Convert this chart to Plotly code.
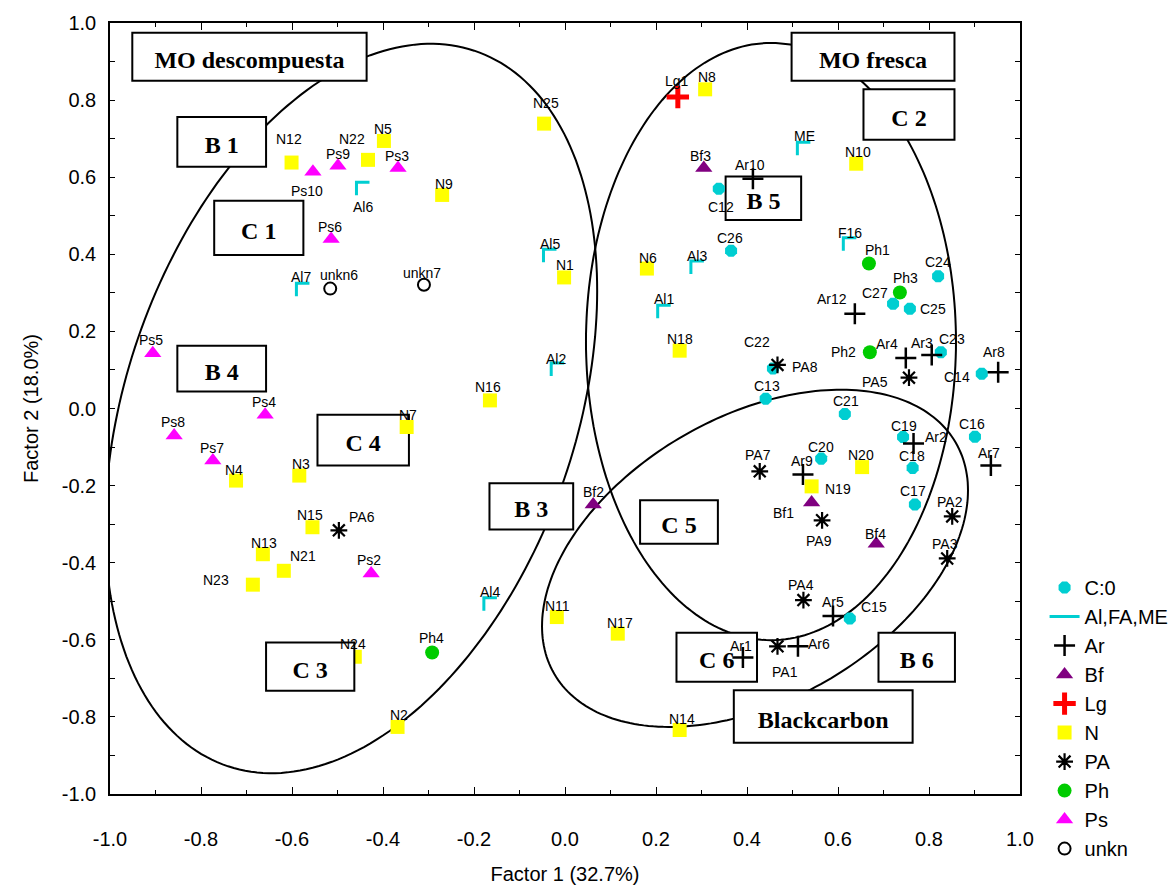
import numpy as np
import plotly.graph_objects as go

# ---------------- data (Factor 1, Factor 2 loadings) ----------------
c0_names = ["C12", "C26", "C24", "C27", "C25", "C22", "C13", "C23", "C14", "C21",
            "C19", "C16", "C20", "C18", "C17", "C15"]
c0_x = [0.338, 0.365, 0.820, 0.721, 0.758, 0.457, 0.441, 0.826, 0.916, 0.615,
        0.743, 0.901, 0.563, 0.764, 0.769, 0.626]
c0_y = [0.570, 0.409, 0.343, 0.272, 0.259, 0.104, 0.025, 0.146, 0.090, -0.014,
        -0.074, -0.073, -0.130, -0.154, -0.249, -0.545]

al_names = ["Al6", "Al7", "Al5", "Al3", "Al1", "ME", "F16", "Al2", "Al4"]
al_x = [-0.444, -0.576, -0.033, 0.291, 0.218, 0.525, 0.626, -0.016, -0.164]
al_y = [0.570, 0.308, 0.396, 0.366, 0.251, 0.674, 0.426, 0.101, -0.508]

ar_names = ["Ar10", "Ar12", "Ar4", "Ar3", "Ar8", "Ar2", "Ar7", "Ar9", "Ar5", "Ar1", "Ar6"]
ar_x = [0.413, 0.637, 0.749, 0.806, 0.952, 0.766, 0.936, 0.523, 0.589, 0.391, 0.512]
ar_y = [0.596, 0.246, 0.131, 0.139, 0.094, -0.091, -0.148, -0.171, -0.538, -0.646, -0.617]

bf_names = ["Bf3", "Bf2", "Bf1", "Bf4"]
bf_x = [0.305, 0.062, 0.542, 0.684]
bf_y = [0.624, -0.249, -0.244, -0.351]

lg_names = ["Lg1"]
lg_x = [0.248]
lg_y = [0.808]

n_names = ["N12", "N22", "N5", "N9", "N25", "N8", "N10", "N1", "N6", "N18", "N16", "N7",
           "N4", "N3", "N15", "N13", "N21", "N23", "N24", "N2", "N11", "N17", "N14",
           "N20", "N19"]
n_x = [-0.601, -0.433, -0.398, -0.270, -0.046, 0.308, 0.640, -0.002, 0.180, 0.252,
       -0.165, -0.348, -0.723, -0.584, -0.555, -0.664, -0.618, -0.686, -0.462, -0.368,
       -0.018, 0.116, 0.252, 0.653, 0.542]
n_y = [0.638, 0.645, 0.694, 0.554, 0.739, 0.828, 0.635, 0.340, 0.363, 0.150,
       0.021, -0.048, -0.187, -0.174, -0.308, -0.378, -0.421, -0.457, -0.644, -0.826,
       -0.541, -0.584, -0.834, -0.152, -0.202]

pa_names = ["PA8", "PA5", "PA7", "PA9", "PA2", "PA3", "PA4", "PA1", "PA6"]
pa_x = [0.467, 0.756, 0.428, 0.565, 0.851, 0.840, 0.524, 0.467, -0.497]
pa_y = [0.113, 0.080, -0.163, -0.290, -0.280, -0.389, -0.497, -0.617, -0.316]

ph_names = ["Ph1", "Ph3", "Ph2", "Ph4"]
ph_x = [0.668, 0.736, 0.670, -0.292]
ph_y = [0.376, 0.301, 0.146, -0.633]

ps_names = ["Ps10", "Ps9", "Ps3", "Ps6", "Ps5", "Ps4", "Ps8", "Ps7", "Ps2"]
ps_x = [-0.554, -0.499, -0.367, -0.514, -0.906, -0.659, -0.859, -0.774, -0.426]
ps_y = [0.614, 0.630, 0.624, 0.440, 0.143, -0.016, -0.070, -0.135, -0.428]

unkn_names = ["unkn6", "unkn7"]
unkn_x = [-0.516, -0.310]
unkn_y = [0.311, 0.321]

tick_vals = [-1.0, -0.8, -0.6, -0.4, -0.2, 0.0, 0.2, 0.4, 0.6, 0.8, 1.0]
tick_text = ["-1.0", "-0.8", "-0.6", "-0.4", "-0.2", "0.0", "0.2", "0.4", "0.6", "0.8", "1.0"]

# ---------------- label offsets from each point (pixels: right, down) ----------------
c0_lbl = [(2, 18), (-1, -13), (0, -14), (-18, -11), (23, 0), (-16, -26), (1, -13), (11, -13),
          (-25, 3), (1, -13), (1, -11), (-3, -13), (0, -12), (-1, -12), (-2, -13), (24, -12)]
al_lbl = [(0, 18), (-2, -13), (0, -12), (0, -11), (0, -13), (1, -13), (0, -11), (-2, -11), (0, -12)]
ar_lbl = [(-3, -14), (-23, -15), (-19, -14), (-10, -12), (-4, -20), (22, -7), (-2, -13),
          (-1, -13), (0, -14), (-2, -12), (21, -2)]
bf_lbl = [(-3, -12), (0, -12), (-28, 10), (-1, -10)]
lg_lbl = [(-1, -16)]
n_lbl = [(-3, -24), (-16, -21), (-1, -12), (2, -11), (2, -21), (2, -12), (2, -12), (1, -12),
         (1, -11), (0, -12), (-2, -13), (1, -12), (-2, -11), (2, -12), (-2, -12), (1, -11),
         (19, -15), (-37, -5), (-2, -13), (1, -12), (1, -11), (2, -11), (2, -11), (-1, -12),
         (26, 3)]
pa_lbl = [(28, 2), (-34, 4), (-2, -16), (-3, 21), (-2, -14), (-2, -14), (-2, -15), (8, 26), (23, -13)]
ph_lbl = [(9, -14), (6, -14), (-26, 0), (-1, -15)]
ps_lbl = [(-6, 19), (0, -12), (-1, -12), (-1, -12), (-2, -13), (-1, -13), (-1, -13), (-1, -13), (-2, -13)]
unkn_lbl = [(9, -14), (-2, -12)]

FONT = "Liberation Sans, Arial, sans-serif"
SERIF = "Liberation Serif, Times New Roman, serif"
CYAN = "#00CED1"

fig = go.Figure()

def marker_trace(name, xs, ys, symbol, color, size, lw=0, lcolor=None):
    m = dict(symbol=symbol, size=size, color=color)
    m["line"] = dict(width=lw, color=lcolor or color) if lw else dict(width=0)
    fig.add_trace(go.Scatter(x=xs, y=ys, mode="markers", name=name, marker=m,
                             hoverinfo="skip"))

# C:0
marker_trace("C:0", c0_x, c0_y, "octagon", CYAN, 13)
# Al,FA,ME : corner brackets drawn as short line pieces around each point
hw, hh = 0.0143, 0.0168
cx, cy = [], []
for xv, yv in zip(al_x, al_y):
    cx += [xv - hw, xv - hw, xv + hw, None]
    cy += [yv - hh, yv + hh, yv + hh, None]
fig.add_trace(go.Scatter(x=cx, y=cy, mode="lines", name="Al,FA,ME",
                         line=dict(color=CYAN, width=3), hoverinfo="skip"))
marker_trace("Ar", ar_x, ar_y, "cross-thin-open", "black", 15, 2.5, "black")
marker_trace("Bf", bf_x, bf_y, "triangle-up", "#800080", 15)
marker_trace("Lg", lg_x, lg_y, "cross-thin-open", "#FF0000", 16, 5, "#FF0000")
marker_trace("N", n_x, n_y, "square", "#FFFF00", 14)
marker_trace("PA", pa_x, pa_y, "asterisk-open", "black", 14, 2.2, "black")
marker_trace("Ph", ph_x, ph_y, "circle", "#00CC00", 14)
marker_trace("Ps", ps_x, ps_y, "triangle-up", "#FF00FF", 15)
marker_trace("unkn", unkn_x, unkn_y, "circle-open", "black", 12, 2, "black")

# point labels
annotations = []
for names, xs, ys, offs in [(c0_names, c0_x, c0_y, c0_lbl), (al_names, al_x, al_y, al_lbl),
                            (ar_names, ar_x, ar_y, ar_lbl), (bf_names, bf_x, bf_y, bf_lbl),
                            (lg_names, lg_x, lg_y, lg_lbl), (n_names, n_x, n_y, n_lbl),
                            (pa_names, pa_x, pa_y, pa_lbl), (ph_names, ph_x, ph_y, ph_lbl),
                            (ps_names, ps_x, ps_y, ps_lbl), (unkn_names, unkn_x, unkn_y, unkn_lbl)]:
    for nm, xv, yv, (dx, dy) in zip(names, xs, ys, offs):
        annotations.append(dict(x=xv, y=yv, xref="x", yref="y", text=nm, showarrow=False,
                                xshift=dx, yshift=-dy, xanchor="center", yanchor="middle",
                                font=dict(family=FONT, size=14, color="black")))

# ---------------- ellipses (conjugate semi-diameter form, data units) ----------------
ellipses = [
    (-0.470, 0.000, 0.5407, 0.3057, 0.0, 0.8953),   # MO descompuesta
    (0.4527, 0.1736, 0.4066, 0.0, 0.0, 0.7746),     # MO fresca
    (0.4176, -0.3886, 0.4681, 0.1762, 0.0, 0.4003), # Blackcarbon
]
shapes = []
t = np.linspace(0, 2 * np.pi, 241)
for (ecx, ecy, ux, uy, vx, vy) in ellipses:
    ex = ecx + ux * np.cos(t) + vx * np.sin(t)
    ey = ecy + uy * np.cos(t) + vy * np.sin(t)
    path = "M " + " L ".join(f"{a:.4f},{b:.4f}" for a, b in zip(ex, ey)) + " Z"
    shapes.append(dict(type="path", path=path, xref="x", yref="y", layer="below",
                       line=dict(color="black", width=2), fillcolor="rgba(0,0,0,0)"))

# ---------------- label boxes ----------------
boxes = [
    ("MO descompuesta", -0.951, -0.436, 0.850, 0.975, "below"),
    ("B 1", -0.852, -0.657, 0.627, 0.756, "below"),
    ("C 1", -0.771, -0.575, 0.398, 0.539, "below"),
    ("B 4", -0.852, -0.657, 0.044, 0.163, "below"),
    ("C 4", -0.544, -0.343, -0.148, -0.016, "below"),
    ("C 3", -0.657, -0.463, -0.732, -0.607, "above"),
    ("B 3", -0.166, 0.018, -0.314, -0.194, "below"),
    ("C 5", 0.165, 0.336, -0.351, -0.238, "below"),
    ("C 6", 0.245, 0.422, -0.709, -0.582, "below"),
    ("B 6", 0.689, 0.857, -0.709, -0.582, "below"),
    ("Blackcarbon", 0.371, 0.764, -0.867, -0.731, "below"),
    ("MO fresca", 0.498, 0.856, 0.850, 0.975, "below"),
    ("C 2", 0.656, 0.856, 0.697, 0.828, "below"),
    ("B 5", 0.353, 0.519, 0.489, 0.602, "below"),
]
for (txt, x0, x1, y0, y1, layer) in boxes:
    shapes.append(dict(type="rect", xref="x", yref="y", x0=x0, x1=x1, y0=y0, y1=y1,
                       layer=layer, fillcolor="white", line=dict(color="black", width=2),
                       label=dict(text=txt, textposition="middle center",
                                  font=dict(family=SERIF, size=24, color="black",
                                            weight="bold"))))

axis_common = dict(showgrid=False, zeroline=False, showline=True, linecolor="black",
                   linewidth=1.5, mirror="ticks", ticks="inside", tickcolor="black",
                   tickwidth=1.2, tickvals=tick_vals, ticktext=tick_text, range=[-1, 1],
                   automargin=False)

fig.update_layout(
    width=1174, height=885,
    margin=dict(l=110, r=154, t=23, b=91, autoexpand=False),
    paper_bgcolor="white", plot_bgcolor="white",
    shapes=shapes,
    annotations=annotations,
    showlegend=True,
    legend=dict(x=1.027, y=0.293, xanchor="left", yanchor="top",
                font=dict(family=FONT, size=20, color="black"),
                bgcolor="rgba(0,0,0,0)", tracegroupgap=0),
    xaxis=dict(ticklen=7,
               minor=dict(dtick=0.1, ticklen=4, ticks="inside", tickcolor="black"),
               tickfont=dict(family=FONT, size=20, color="black"),
               ticklabelstandoff=26,
               title=dict(text="Factor 1 (32.7%)", standoff=23,
                          font=dict(family=FONT, size=20, color="black")),
               **axis_common),
    yaxis=dict(ticklen=5,
               minor=dict(dtick=0.1, ticklen=5, ticks="inside", tickcolor="black"),
               tickfont=dict(family=FONT, size=20, color="black"),
               ticklabelstandoff=8,
               title=dict(text="Factor 2 (18.0%)", standoff=18,
                          font=dict(family=FONT, size=20, color="black")),
               **axis_common),
)

fig.write_html("out.html")
